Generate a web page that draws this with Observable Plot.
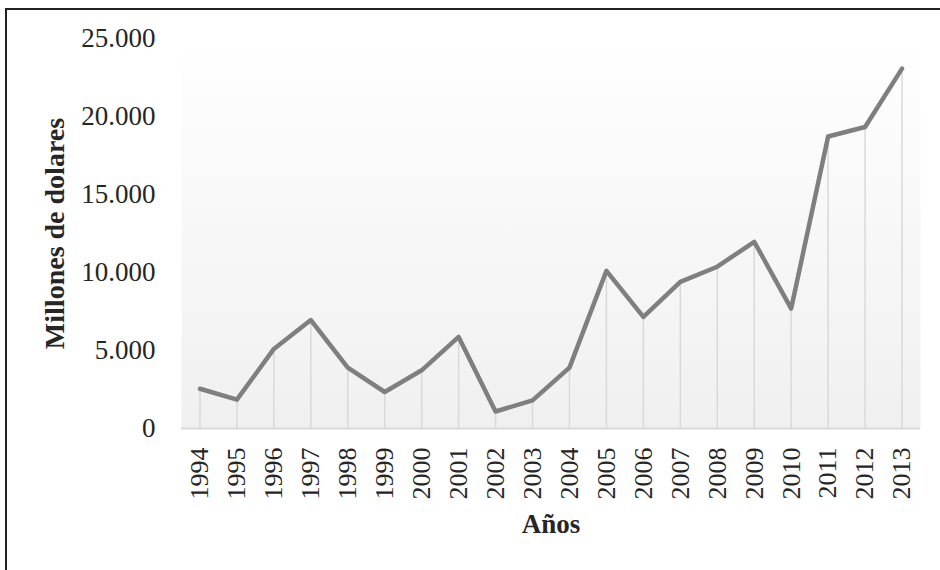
<!DOCTYPE html>
<html>
<head>
<meta charset="utf-8">
<script src="https://cdn.jsdelivr.net/npm/d3@7"></script>
<script src="https://cdn.jsdelivr.net/npm/@observablehq/plot@0.6"></script>
<style>
  html, body { margin: 0; padding: 0; background: #fff; overflow: hidden; }
  #wrap { position: relative; width: 940px; height: 570px; overflow: hidden; }
  #marco { position: absolute; left: 5px; top: 8px; width: 1000px; height: 1000px;
           border: 2px solid #222; pointer-events: none; }
</style>
</head>
<body>
<div id="wrap"><div id="chart"></div><div id="marco"></div></div>
<script>
// Años y montos anuales (millones de dólares)
const years = ["1994","1995","1996","1997","1998","1999","2000","2001","2002","2003",
               "2004","2005","2006","2007","2008","2009","2010","2011","2012","2013"];
const values = [2550, 1850, 5100, 6950, 3900, 2340, 3730, 5870, 1090, 1800,
                3900, 10110, 7150, 9400, 10370, 11970, 7690, 18720, 19330, 23070];
const yTicks = [0, 5000, 10000, 15000, 20000, 25000];
const yTitle = "Millones de dolares";
const xTitle = "Años";

const data = years.map((year, i) => ({year, value: values[i]}));

// Separador de miles con punto
const fmt = d3.formatLocale({decimal: ",", thousands: ".", grouping: [3], currency: ["$", ""]}).format(",d");

const chart = Plot.plot({
  width: 940,
  height: 570,
  marginLeft: 181,
  marginRight: 20,
  marginTop: 38,
  marginBottom: 142,
  style: {fontFamily: "'Liberation Serif', serif", background: "transparent", color: "#262626"},
  x: {type: "point", domain: years, padding: 0.5, round: false},
  y: {domain: [0, 25000]},
  marks: [
    Plot.frame({fill: "url(#fondo)", stroke: "none"}),
    Plot.ruleX(data, {x: "year", y1: 0, y2: "value", stroke: "#d9d9d9", strokeWidth: 1.5}),
    Plot.ruleY([0], {stroke: "#d9d9d9", strokeWidth: 2}),
    Plot.line(data, {x: "year", y: "value", stroke: "#7f7f7f", strokeWidth: 4.5}),
    Plot.axisY({ticks: yTicks, tickFormat: fmt, tickSize: 0, tickPadding: 26, fontSize: 27, label: null}),
    Plot.axisX({tickRotate: -90, tickSize: 0, tickPadding: 19, fontSize: 26, label: null}),
    Plot.text([yTitle], {frameAnchor: "left", textAnchor: "middle", rotate: -90, dx: -126, fontSize: 28, fontWeight: "bold"}),
    Plot.text([xTitle], {frameAnchor: "bottom", dy: 104, fontSize: 27, fontWeight: "bold"})
  ]
});

// Degradado del área de trazado
const defs = d3.select(chart).insert("defs", ":first-child");
const grad = defs.append("linearGradient")
  .attr("id", "fondo").attr("x1", 0).attr("y1", 0).attr("x2", 0).attr("y2", 1);
grad.append("stop").attr("offset", "0%").attr("stop-color", "#ffffff");
grad.append("stop").attr("offset", "100%").attr("stop-color", "#f0f0f0");

document.getElementById("chart").appendChild(chart);
</script>
</body>
</html>
